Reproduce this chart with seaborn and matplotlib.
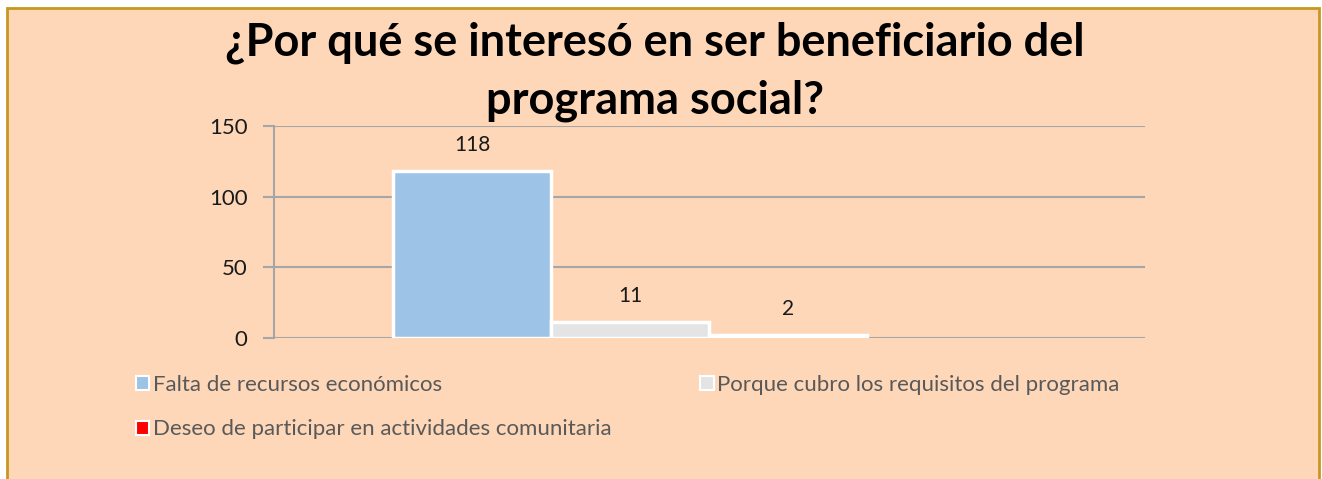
import numpy as np
import pandas as pd
import seaborn as sns
import matplotlib.pyplot as plt
from matplotlib.patches import Rectangle, Patch

# data
series = ['Falta de recursos económicos',
          'Porque cubro los requisitos del programa',
          'Deseo de participar en actividades comunitaria']
values = [118, 11, 2]
colors = ['#9DC3E6', '#E4E4E4', '#FF0000']
title_lines = ['¿Por qué se interesó en ser beneficiario del', 'programa social?']

df = pd.DataFrame({'cat': [''] * len(series), 'serie': series, 'valor': values})

sns.set_style('white')
plt.rcParams['font.family'] = ['Lato', 'DejaVu Sans']

bg = '#FDD7B8'
fig = plt.figure(figsize=(13.22, 4.79), dpi=100)
fig.patch.set_facecolor('white')
# chart frame
fig.patches.append(Rectangle((7 / 1322, -0.05), 1312 / 1322, (479 - 8) / 479 + 0.05,
                             transform=fig.transFigure, facecolor=bg,
                             edgecolor='#C9961F', linewidth=2, zorder=-5))

ax = fig.add_axes([274 / 1322, 141 / 479, 871 / 1322, 212 / 479])
ax.set_facecolor('none')

sns.barplot(data=df, x='cat', y='valor', hue='serie', hue_order=series,
            palette=colors, width=0.8, ax=ax, legend=False,
            edgecolor='white', linewidth=2.5, saturation=1, zorder=3)

for cont in ax.containers:
    ax.bar_label(cont, padding=12, fontsize=15, color='#1a1a1a')

ax.set_ylim(0, 150)
ax.set_yticks([0, 50, 100, 150])
ax.set_xlim(-0.601, 0.869)
ax.set_xticks([])
ax.set_xlabel('')
ax.set_ylabel('')
ax.grid(axis='y', color='#A6A6A6', linewidth=1.5, zorder=0)
for s in ['top', 'right', 'bottom']:
    ax.spines[s].set_visible(False)
ax.spines['left'].set_color('#A6A6A6')
ax.spines['left'].set_linewidth(1.5)
ax.tick_params(axis='y', length=8, width=1.5, color='#A6A6A6', labelsize=16,
               labelcolor='#1a1a1a', pad=11, left=True)

# title, one text per line
for line, base in zip(title_lines, [56, 113]):
    fig.text(655 / 1322, (479 - base) / 479, line, ha='center', va='baseline',
             fontsize=32.5, fontweight='bold', color='black')

# matplotlib fills legend columns first, so reorder to get rows 1-2 / 3
order = [0, 2, 1]
handles = [Patch(facecolor=colors[i], edgecolor='white', linewidth=1.5) for i in order]
labels = [series[i] for i in order]
leg = fig.legend(handles, labels, loc='upper left', ncol=2,
                 bbox_to_anchor=(116 / 1322, (479 - 355) / 479),
                 frameon=False, fontsize=16, labelcolor='#595959',
                 handlelength=0.6, handleheight=0.6, handletextpad=0.15,
                 columnspacing=4.0, labelspacing=1.1)

fig.savefig('out.png', dpi=100)
